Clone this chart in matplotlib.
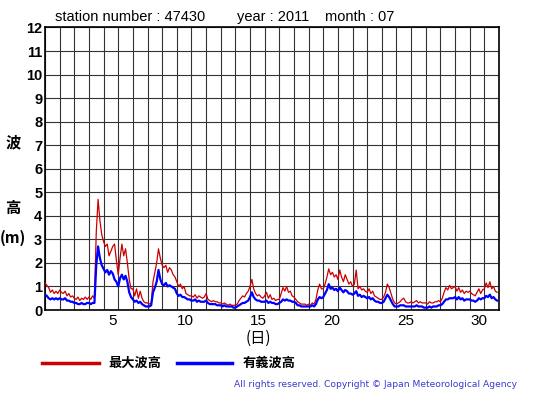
import numpy as np
import matplotlib
matplotlib.use("Agg")
import matplotlib.pyplot as plt

plt.rcParams['font.family'] = ['Liberation Sans', 'Noto Sans CJK JP', 'DejaVu Sans']

# 3-hourly values (0,3,6,...,21h) for each day of July 2011
max_wave = [
    1.15, 1.05, 0.95, 0.75, 0.85, 0.70, 0.80, 0.70,
    0.85, 0.75, 0.70, 0.80, 0.60, 0.70, 0.55, 0.60,
    0.50, 0.45, 0.55, 0.40, 0.50, 0.45, 0.55, 0.45,
    0.55, 0.45, 0.60, 0.50, 3.30, 4.70, 3.80, 3.20,
    2.90, 2.70, 2.80, 2.30, 2.50, 2.70, 2.80, 2.10,
    1.50, 2.20, 2.80, 2.30, 2.60, 2.00, 1.30, 0.90,
    0.90, 0.60, 0.90, 0.50, 0.80, 0.50, 0.35, 0.30,
    0.30, 0.25, 0.30, 1.20, 1.60, 2.00, 2.60, 2.20,
    1.90, 1.80, 1.90, 1.60, 1.80, 1.70, 1.50, 1.40,
    1.20, 1.00, 1.10, 0.90, 1.00, 0.70, 0.65, 0.60,
    0.60, 0.55, 0.65, 0.50, 0.60, 0.55, 0.50, 0.55,
    0.70, 0.45, 0.40, 0.35, 0.40, 0.35, 0.35, 0.30,
    0.30, 0.25, 0.30, 0.25, 0.20, 0.25, 0.20, 0.20,
    0.20, 0.25, 0.40, 0.50, 0.60, 0.55, 0.70, 0.80,
    1.00, 1.30, 0.90, 0.70, 0.60, 0.65, 0.55, 0.50,
    0.60, 0.75, 0.50, 0.65, 0.45, 0.50, 0.40, 0.45,
    0.45, 0.70, 0.95, 0.80, 1.00, 0.75, 0.80, 0.60,
    0.55, 0.45, 0.35, 0.30, 0.25, 0.25, 0.25, 0.20,
    0.25, 0.20, 0.30, 0.25, 0.45, 0.85, 1.10, 0.90,
    0.90, 1.10, 1.40, 1.75, 1.50, 1.60, 1.40, 1.50,
    1.30, 1.70, 1.40, 1.20, 1.50, 1.30, 1.10, 1.20,
    1.00, 1.10, 1.70, 0.90, 1.00, 0.85, 0.90, 0.80,
    0.75, 0.90, 0.70, 0.80, 0.60, 0.55, 0.50, 0.45,
    0.45, 0.55, 0.75, 1.10, 0.95, 0.70, 0.45, 0.30,
    0.25, 0.30, 0.35, 0.45, 0.50, 0.35, 0.30, 0.30,
    0.35, 0.30, 0.35, 0.40, 0.30, 0.35, 0.30, 0.30,
    0.30, 0.25, 0.35, 0.30, 0.30, 0.35, 0.35, 0.40,
    0.35, 0.50, 0.75, 0.95, 0.85, 1.05, 0.90, 0.95,
    1.00, 0.80, 0.95, 0.75, 0.85, 0.70, 0.80, 0.75,
    0.80, 0.70, 0.65, 0.60, 0.75, 0.90, 0.70, 0.85,
    0.90, 1.15, 0.95, 1.20, 0.90, 1.00, 0.80, 0.75,
]
sig_wave = [
    0.65, 0.60, 0.50, 0.45, 0.50, 0.45, 0.50, 0.45,
    0.50, 0.45, 0.45, 0.50, 0.40, 0.40, 0.35, 0.35,
    0.30, 0.30, 0.25, 0.25, 0.30, 0.25, 0.25, 0.30,
    0.30, 0.25, 0.30, 0.30, 1.90, 2.70, 2.20, 1.90,
    1.75, 1.60, 1.70, 1.50, 1.65, 1.55, 1.30, 1.20,
    1.00, 1.35, 1.50, 1.30, 1.45, 1.20, 0.75, 0.55,
    0.45, 0.35, 0.40, 0.30, 0.35, 0.25, 0.20, 0.15,
    0.15, 0.15, 0.20, 0.75, 0.95, 1.20, 1.70, 1.30,
    1.10, 1.05, 1.15, 1.00, 1.05, 1.00, 0.95, 0.90,
    0.70, 0.60, 0.65, 0.55, 0.55, 0.50, 0.45, 0.45,
    0.40, 0.40, 0.45, 0.35, 0.40, 0.35, 0.35, 0.35,
    0.40, 0.30, 0.25, 0.25, 0.25, 0.25, 0.20, 0.20,
    0.20, 0.15, 0.20, 0.15, 0.15, 0.15, 0.15, 0.10,
    0.10, 0.15, 0.20, 0.25, 0.30, 0.30, 0.35, 0.40,
    0.55, 0.75, 0.55, 0.45, 0.40, 0.40, 0.35, 0.35,
    0.35, 0.40, 0.30, 0.35, 0.30, 0.30, 0.25, 0.25,
    0.30, 0.35, 0.45, 0.40, 0.45, 0.40, 0.40, 0.35,
    0.35, 0.30, 0.20, 0.20, 0.15, 0.15, 0.15, 0.15,
    0.15, 0.15, 0.20, 0.15, 0.25, 0.45, 0.55, 0.50,
    0.55, 0.70, 0.85, 1.10, 0.90, 0.95, 0.85, 0.90,
    0.80, 0.95, 0.85, 0.75, 0.85, 0.80, 0.70, 0.70,
    0.65, 0.70, 0.80, 0.60, 0.65, 0.55, 0.60, 0.55,
    0.50, 0.55, 0.45, 0.50, 0.40, 0.35, 0.35, 0.30,
    0.30, 0.35, 0.50, 0.65, 0.55, 0.40, 0.25, 0.15,
    0.15, 0.15, 0.20, 0.20, 0.20, 0.15, 0.15, 0.15,
    0.15, 0.15, 0.15, 0.20, 0.15, 0.15, 0.15, 0.10,
    0.10, 0.10, 0.15, 0.10, 0.15, 0.15, 0.15, 0.20,
    0.20, 0.25, 0.35, 0.45, 0.45, 0.50, 0.50, 0.50,
    0.55, 0.45, 0.55, 0.45, 0.50, 0.40, 0.45, 0.45,
    0.45, 0.40, 0.40, 0.35, 0.40, 0.50, 0.45, 0.50,
    0.50, 0.60, 0.55, 0.65, 0.50, 0.55, 0.45, 0.40,
]
hours = np.arange(len(max_wave)) * 3
days = 1 + hours / 24.0

x_tick_labels = ["5", "10", "15", "20", "25", "30"]
y_tick_labels = [str(v) for v in range(0, 13)]

W, H = 555, 395
fig = plt.figure(figsize=(W / 100, H / 100), dpi=100)
fig.patch.set_facecolor('white')
L, R, T, B = 45, 499, 27.5, 310
ax = fig.add_axes([L / W, 1 - B / H, (R - L) / W, (B - T) / H])

ax.plot(days, max_wave, color='#cc0000', lw=0.9, zorder=3)
ax.plot(days, sig_wave, color='#0000ff', lw=1.6, zorder=4)

ax.set_xlim(1, 32)
ax.set_ylim(0, 12)
ax.set_xticks(np.arange(1, 33))
ax.set_xticklabels([])
ax.set_xticks([int(s) + 0.6 for s in x_tick_labels], minor=True)
ax.set_xticklabels(x_tick_labels, minor=True, fontsize=11)
ax.set_yticks(range(0, 13))
ax.set_yticklabels(y_tick_labels, fontsize=10.5, fontweight='bold')
ax.tick_params(axis='both', which='both', length=0)
ax.tick_params(axis='y', pad=2)
ax.tick_params(axis='x', which='minor', pad=3)
ax.grid(True, which='major', color='#333333', lw=0.8)
for s in ax.spines.values():
    s.set_linewidth(1.2)
    s.set_color('black')

cjk = ['Noto Sans CJK JP', 'DejaVu Sans']
fig.text(13 / W, 1 - 142.5 / H, "波", fontsize=11, fontweight='bold', family=cjk, ha='center', va='center')
fig.text(13 / W, 1 - 208 / H, "高", fontsize=11, fontweight='bold', family=cjk, ha='center', va='center')
fig.text(13 / W, 1 - 238 / H, "(m)", fontsize=11, fontweight='bold', family=cjk, ha='center', va='center')
fig.text(258 / W, 1 - 338 / H, "(日)", fontsize=11, family=cjk, ha='center', va='center')

fig.text(55 / W, 1 - 17 / H, "station number : 47430", fontsize=10.5, ha='left', va='center')
fig.text(237 / W, 1 - 17 / H, "year : 2011", fontsize=10.5, ha='left', va='center')
fig.text(325 / W, 1 - 17 / H, "month : 07", fontsize=10.5, ha='left', va='center')

fig.add_artist(plt.Line2D([42 / W, 99 / W], [1 - 363 / H] * 2, color='#cc0000', lw=2.5))
fig.text(108 / W, 1 - 363 / H, "最大波高", fontsize=9.5, fontweight='bold', family=cjk, ha='left', va='center')
fig.add_artist(plt.Line2D([177 / W, 232 / W], [1 - 363 / H] * 2, color='#0000ff', lw=2.5))
fig.text(243 / W, 1 - 363 / H, "有義波高", fontsize=9.5, fontweight='bold', family=cjk, ha='left', va='center')

fig.text(517 / W, 1 - 384.5 / H, "All rights reserved. Copyright © Japan Meteorological Agency",
         fontsize=6.6, color='#3a3ad0', ha='right', va='center', family=['DejaVu Sans'])

fig.savefig("out.png", dpi=100, facecolor='white')
